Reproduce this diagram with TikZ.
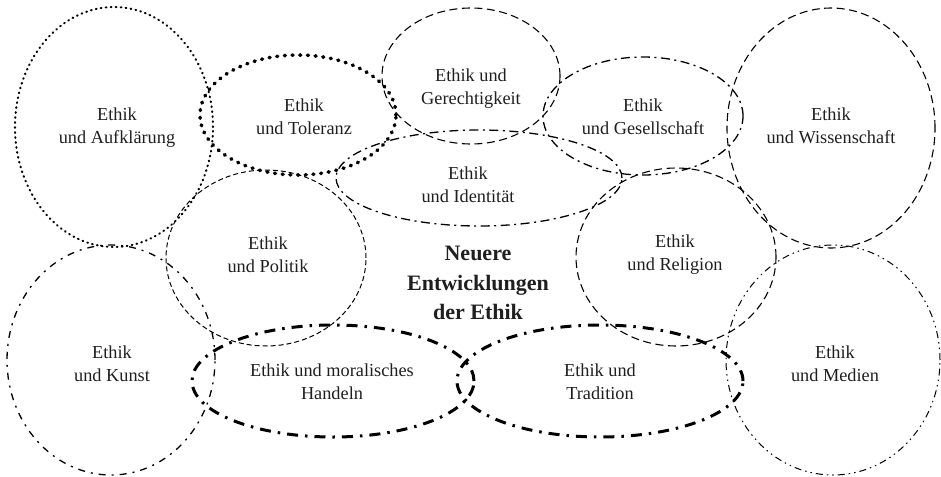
\documentclass[tikz,border=0pt]{standalone}
\usepackage{fontspec}
\setmainfont{Liberation Serif}
\begin{document}
\begin{tikzpicture}[x=1pt,y=-1pt,
  lbl/.style={align=center,font=\fontsize{18.3}{23}\selectfont,text=black!88,inner sep=0pt},
  ctr/.style={align=center,font=\fontsize{22}{29.5}\selectfont\bfseries,text=black!88,inner sep=0pt},
  finedots/.style={line width=2.1pt,line cap=round,dash pattern=on 0.7pt off 4.3pt},
  thickdots/.style={line width=3.6pt,line cap=round,dash pattern=on 0.9pt off 6.8pt},
  dashA/.style={line width=1.1pt,dash pattern=on 8pt off 4.5pt},
  dashfine/.style={line width=1pt,dash pattern=on 5pt off 3pt},
  dashdotA/.style={line width=1.3pt,dash pattern=on 9pt off 4.5pt on 2pt off 4.5pt},
  dashdotB/.style={line width=1.3pt,dash pattern=on 7pt off 6pt on 2pt off 6pt},
  dashdotthick/.style={line width=3pt,dash pattern=on 11pt off 7pt on 2.5pt off 7pt},
  dashdotdot/.style={line width=1pt,dash pattern=on 7pt off 4pt on 1.5pt off 4pt on 1.5pt off 4pt}]
\useasboundingbox (0,0) rectangle (941,476);
% shapes
\draw[finedots] (114,127) ellipse [x radius=99pt, y radius=120pt];
\draw[thickdots] (298,115) ellipse [x radius=98pt, y radius=60pt];
\draw[dashA] (471,76) ellipse [x radius=89pt, y radius=68pt];
\draw[dashdotA] (643,116) ellipse [x radius=100pt, y radius=59pt];
\draw[dashA] (831,128) ellipse [x radius=104pt, y radius=120pt];
\draw[dashdotA] (479,178) ellipse [x radius=143pt, y radius=48pt];
\draw[dashfine] (266,258) ellipse [x radius=100pt, y radius=88pt];
\draw[dashA] (676,257) ellipse [x radius=100pt, y radius=89pt];
\draw[dashdotB] (111,360) ellipse [x radius=104pt, y radius=115pt];
\draw[dashdotthick] (333,381) ellipse [x radius=141pt, y radius=56pt];
\draw[dashdotthick] (600,381) ellipse [x radius=143pt, y radius=56pt];
\draw[dashdotdot] (833,360) ellipse [x radius=107pt, y radius=115pt];
% labels
\node[lbl] (aufkl) at (117,128) {Ethik\\und Aufklärung};
\node[lbl] (toler) at (304,117) {Ethik\\und Toleranz};
\node[lbl] (gerech) at (471,89) {Ethik und\\Gerechtigkeit};
\node[lbl] (gesell) at (643,117) {Ethik\\und Gesellschaft};
\node[lbl] (wissen) at (831,126) {Ethik\\und Wissenschaft};
\node[lbl] (ident) at (468,185) {Ethik\\und Identität};
\node[lbl] (polit) at (268,255) {Ethik\\und Politik};
\node[lbl] (relig) at (675,255) {Ethik\\und Religion};
\node[lbl] (kunst) at (112,364) {Ethik\\und Kunst};
\node[lbl] (handeln) at (332,382) {Ethik und moralisches\\Handeln};
\node[lbl] (trad) at (600,382) {Ethik und\\Tradition};
\node[lbl] (medien) at (835,364) {Ethik\\und Medien};
\node[ctr] (center) at (478,283) {Neuere\\Entwicklungen\\der Ethik};
\end{tikzpicture}
\end{document}
